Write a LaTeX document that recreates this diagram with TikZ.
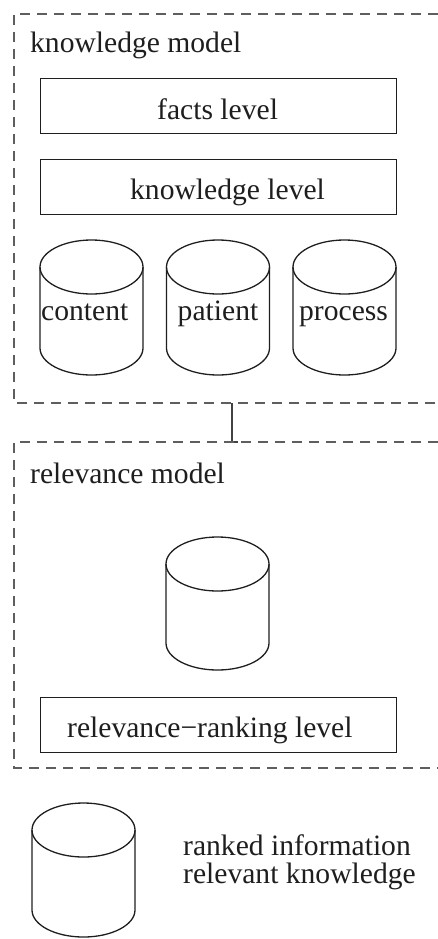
\documentclass[tikz,border=0pt]{standalone}
\usepackage{fontspec}
\setmainfont{Liberation Serif}
\usetikzlibrary{calc}
\definecolor{dashgray}{HTML}{5E5E5E}
\definecolor{txt}{HTML}{1E1E1E}
\newcommand\dbcyl[3]{% cx, top, bottom
  \draw[cylline] (#1,#2+27) ellipse [x radius=51.5, y radius=27];
  \draw[cylline] (#1-51.5,#2+27) -- (#1-51.5,#3-27) arc[start angle=180,end angle=0,x radius=51.5,y radius=27] -- (#1+51.5,#2+27);
}
\begin{document}
\begin{tikzpicture}[x=1bp,y=-1bp,
  every node/.style={font=\fontsize{29.7}{34}\selectfont, text=txt, inner sep=0pt},
  levelbox/.style={draw=txt, line width=1.4pt, minimum width=356bp, minimum height=55bp, anchor=north west},
  cylline/.style={draw=txt, line width=1.3pt},
  modelframe/.style={dashgray, line width=1.6pt, dash pattern=on 10bp off 7bp},
  link/.style={line width=1.4pt, draw=dashgray!70!black}]
\useasboundingbox (0,0) rectangle (438,939);
% knowledge model frame
\draw[modelframe] (438,14) -- (14,14) -- (14,403) -- (438,403);
\node[anchor=base west] (km) at (30,52) {knowledge model};
\node[levelbox] (facts) at (40,78) {};
\node[anchor=base west] (factst) at (157,119) {facts level};
\node[levelbox] (know) at (40,159) {};
\node[anchor=base west] (knowt) at (130,199) {knowledge level};
\dbcyl{91.5}{240}{375}
\dbcyl{218}{240}{375}
\dbcyl{344.5}{240}{375}
\node[anchor=base west] (content) at (41,320) {content};
\node[anchor=base] (patient) at (218,320) {patient};
\node[anchor=base west] (process) at (299,320) {process};
% connector
\coordinate (kmb) at (232,403);
\coordinate (rmt) at (238,442);
\draw[link] (kmb) |- (rmt);
% relevance model frame
\draw[modelframe] (438,442) -- (14,442) -- (14,768) -- (438,768);
\node[anchor=base west] (rm) at (30,483) {relevance model};
\dbcyl{217.5}{537}{670}
\coordinate (relcyl) at (217.5,603);
\node[levelbox] (rank) at (40,697) {};
\node[anchor=base west] (rankt) at (67,737) {relevance−ranking level};
% output
\dbcyl{83.5}{803}{937}
\coordinate (outcyl) at (83.5,870);
\node[anchor=base west] (ranked) at (183,855) {ranked information};
\node[anchor=base west] (relk) at (183,883) {relevant knowledge};
\end{tikzpicture}
\end{document}
